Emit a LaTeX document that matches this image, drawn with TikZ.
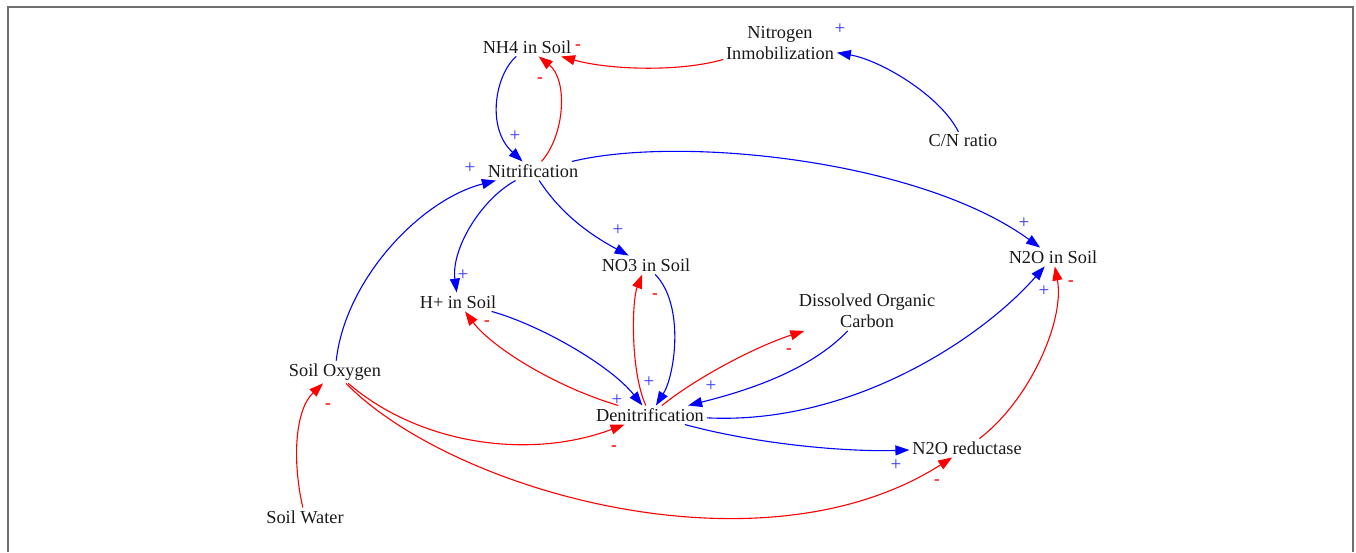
\documentclass[tikz,border=0pt]{standalone}
\usepackage{fontspec}
\setmainfont{Liberation Serif}
\usetikzlibrary{arrows.meta}
\definecolor{cblue}{RGB}{0,0,255}
\definecolor{cpblue}{RGB}{50,50,255}
\definecolor{cred}{RGB}{255,0,0}
\definecolor{ctext}{RGB}{25,25,25}
\definecolor{cframe}{RGB}{110,110,110}
\tikzset{
  var/.style={inner sep=3pt, outer sep=0pt, text=ctext, font=\fontsize{18.3}{21}\selectfont, align=center},
  poslink/.style={draw=cblue, line width=1.1pt, -{Triangle[length=14pt,width=10pt]}},
  neglink/.style={draw=cred, line width=1.1pt, -{Triangle[length=14pt,width=10pt]}},
  plussign/.style={inner sep=0pt, text=cpblue, font=\fontsize{19}{19}\selectfont},
  minussign/.style={inner sep=0pt, text=cred, font=\fontsize{17}{17}\selectfont\bfseries},
}
\begin{document}
\begin{tikzpicture}[x=1pt,y=-1pt]
\useasboundingbox (0,0) rectangle (1356,552);
\draw[cframe, line width=1.6pt] (8,552) -- (8,7) -- (1353,7) -- (1353,552);

% variables
\node[var] (nh4) at (527,47) {NH4 in Soil};
\node[var] (ninm) at (780,43) {Nitrogen\\Inmobilization};
\node[var] (cn) at (963,141) {C/N ratio};
\node[var] (nitr) at (533,171) {Nitrification};
\node[var] (no3) at (646,265) {NO3 in Soil};
\node[var] (n2o) at (1053,257) {N2O in Soil};
\node[var] (hplus) at (458,302) {H+ in Soil};
\node[var] (doc) at (867,311) {Dissolved Organic\\Carbon};
\node[var] (soilox) at (335,372) {Soil Oxygen};
\node[var] (denit) at (650,415) {Denitrification};
\node[var] (n2ored) at (967,448) {N2O reductase};
\node[var] (water) at (305,517) {Soil Water};

% links
\draw[neglink] (ninm) .. controls (680,72) and (610,70) .. (nh4);
\draw[poslink] (cn) .. controls (940,95) and (880,60) .. (ninm);
\draw[poslink] (nh4) .. controls (495,75) and (486,128) .. (nitr);
\draw[neglink] (nitr) .. controls (565,135) and (568,80) .. (nh4);
\draw[poslink] (soilox) .. controls (345,280) and (420,200) .. (nitr);
\draw[poslink] (nitr) .. controls (680,135) and (920,160) .. (n2o);
\draw[poslink] (nitr) .. controls (480,200) and (451,250) .. (hplus);
\draw[poslink] (nitr) .. controls (565,220) and (600,240) .. (no3);
\draw[poslink] (hplus) .. controls (540,325) and (610,365) .. (denit);
\draw[neglink] (denit) .. controls (550,385) and (490,345) .. (hplus);
\draw[neglink] (denit) .. controls (630,370) and (632,300) .. (no3);
\draw[poslink] (no3) .. controls (685,305) and (675,375) .. (denit);
\draw[neglink] (denit) .. controls (700,375) and (760,345) .. (doc);
\draw[poslink] (doc) .. controls (810,370) and (750,390) .. (denit);
\draw[poslink] (denit) .. controls (850,425) and (980,340) .. (n2o);
\draw[poslink] (denit) .. controls (760,445) and (850,452) .. (n2ored);
\draw[neglink] (n2ored) .. controls (1030,400) and (1065,320) .. (n2o);
\draw[neglink] (soilox) .. controls (420,445) and (530,460) .. (denit);
\draw[neglink] (soilox) .. controls (450,490) and (760,580) .. (n2ored);
\draw[neglink] (water) .. controls (292,460) and (295,410) .. (soilox);

% polarity signs
\node[minussign] (s1) at (578,47) {-};
\node[minussign] (s2) at (540,80) {-};
\node[plussign] (s3) at (515,136) {+};
\node[plussign] (s4) at (470,168) {+};
\node[plussign] (s5) at (840,29) {+};
\node[plussign] (s6) at (618,230) {+};
\node[plussign] (s7) at (463,275) {+};
\node[minussign] (s8) at (487,323) {-};
\node[minussign] (s9) at (655,296) {-};
\node[plussign] (s10) at (649,382) {+};
\node[plussign] (s11) at (617,400) {+};
\node[minussign] (s12) at (789,351) {-};
\node[plussign] (s13) at (711,386) {+};
\node[plussign] (s14) at (1024,223) {+};
\node[plussign] (s15) at (1044,291) {+};
\node[minussign] (s16) at (1071,283) {-};
\node[plussign] (s17) at (896,465) {+};
\node[minussign] (s18) at (937,482) {-};
\node[minussign] (s19) at (614,448) {-};
\node[minussign] (s20) at (328,406) {-};
\end{tikzpicture}
\end{document}
